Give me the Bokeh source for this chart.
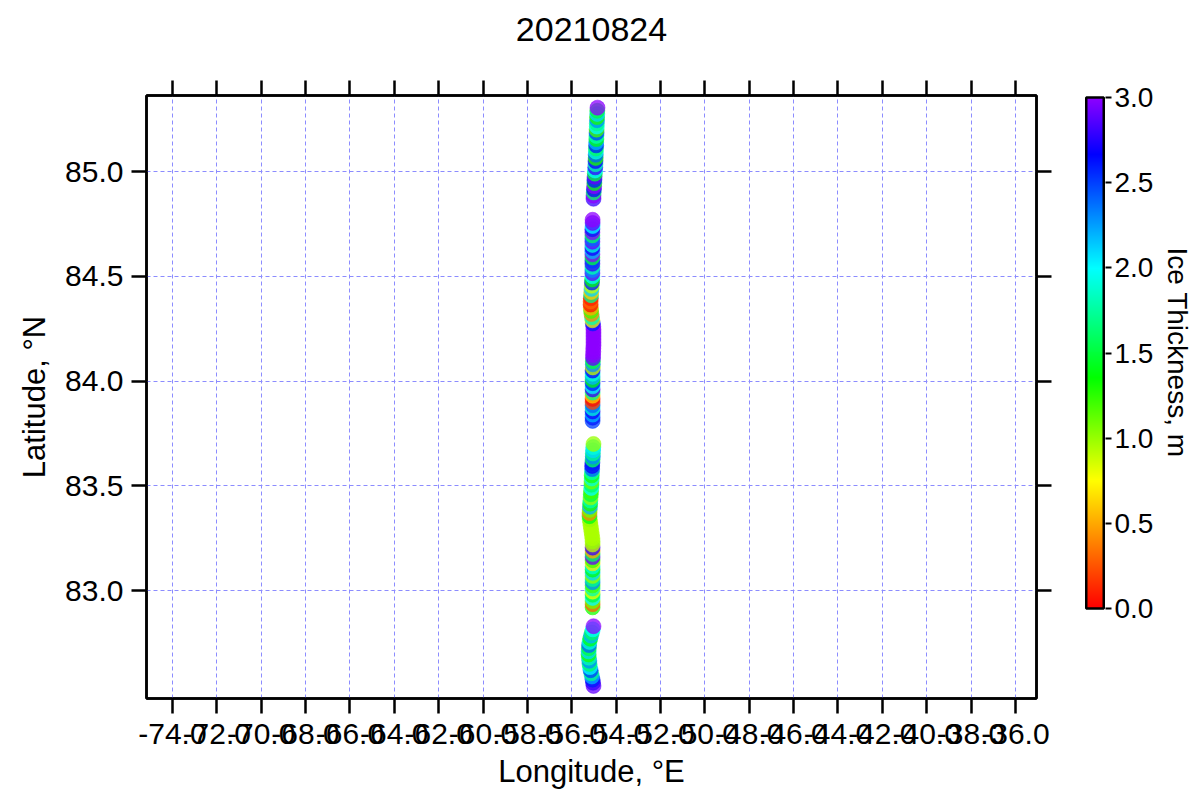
import numpy as np
from bokeh.plotting import figure
from bokeh.layouts import row
from bokeh.models import (LinearAxis, FixedTicker, NumeralTickFormatter, LinearColorMapper,
                          ColumnDataSource, CustomJSTickFormatter, Range1d, Title)
from bokeh.embed import file_html
from bokeh.resources import INLINE

# ---------------- data (track segments, north -> south) ----------------
seg1_lat = [85.305, 85.29, 85.275, 85.26, 85.245, 85.23, 85.215, 85.20, 85.185, 85.17,
            85.155, 85.14, 85.125, 85.11, 85.095, 85.08, 85.065, 85.05, 85.035, 85.02,
            85.005, 84.99, 84.975, 84.96, 84.945, 84.93, 84.915, 84.90, 84.885, 84.87]
seg1_lon = [-54.84, -54.85, -54.85, -54.86, -54.86, -54.87, -54.87, -54.88, -54.88, -54.89,
            -54.89, -54.90, -54.90, -54.91, -54.91, -54.92, -54.92, -54.93, -54.93, -54.94,
            -54.95, -54.96, -54.97, -54.98, -54.98, -54.99, -55.00, -55.01, -55.02, -55.02]
seg1_thk = [3.0, 1.5, 2.1, 1.3, 2.3, 1.7, 2.0, 1.2, 2.5, 1.8,
            1.4, 2.2, 2.6, 1.6, 1.9, 2.4, 1.3, 2.7, 1.8, 2.8,
            2.0, 1.5, 2.9, 2.6, 1.4, 3.0, 2.7, 1.6, 3.0, 2.8]

seg2_lat = [84.770, 84.755, 84.740, 84.725, 84.710, 84.695, 84.680, 84.665, 84.650, 84.635,
            84.620, 84.605, 84.590, 84.575, 84.560, 84.545, 84.530, 84.515, 84.500, 84.485,
            84.470, 84.455, 84.440, 84.425, 84.410, 84.395, 84.380, 84.365, 84.350, 84.335,
            84.320, 84.305, 84.290, 84.275, 84.260, 84.245, 84.230, 84.215, 84.200, 84.185,
            84.170, 84.155, 84.140, 84.125, 84.110, 84.095, 84.080, 84.065, 84.050, 84.035,
            84.020, 84.005, 83.990, 83.975, 83.960, 83.945, 83.930, 83.915, 83.900, 83.885,
            83.870, 83.855, 83.840, 83.825, 83.810]
seg2_lon = [-55.06, -55.06, -55.06, -55.07, -55.07, -55.07, -55.07, -55.07, -55.07, -55.07,
            -55.07, -55.07, -55.07, -55.07, -55.07, -55.07, -55.07, -55.07, -55.07, -55.08,
            -55.09, -55.10, -55.11, -55.12, -55.13, -55.14, -55.15, -55.15, -55.14, -55.13,
            -55.11, -55.09, -55.07, -55.05, -55.03, -55.02, -55.02, -55.02, -55.02, -55.02,
            -55.02, -55.03, -55.03, -55.04, -55.04, -55.05, -55.05, -55.05, -55.06, -55.06,
            -55.06, -55.06, -55.06, -55.06, -55.06, -55.06, -55.06, -55.06, -55.06, -55.06,
            -55.06, -55.06, -55.06, -55.06, -55.06]
seg2_thk = [3.0, 2.9, 2.0, 2.6, 3.0, 1.6, 2.4, 2.9, 1.9, 2.7,
            2.2, 3.0, 1.5, 2.5, 2.8, 1.8, 2.3, 2.9, 2.0, 1.4,
            2.6, 0.9, 2.1, 0.6, 1.7, 0.1, 0.3, 0.05, 0.5, 1.2,
            0.4, 1.8, 0.8, 2.6, 3.2, 3.3, 3.4, 3.3, 3.2, 3.4,
            3.3, 3.2, 3.3, 3.1, 2.9, 1.5, 2.3, 0.9, 2.7, 1.9,
            2.2, 1.4, 2.6, 2.0, 2.8, 1.7, 0.6, 0.05, 0.2, 2.4,
            1.9, 2.7, 2.2, 2.6, 2.5]

seg3_lat = [83.700, 83.685, 83.670, 83.655, 83.640, 83.625, 83.610, 83.595, 83.580, 83.565,
            83.550, 83.535, 83.520, 83.505, 83.490, 83.475, 83.460, 83.445, 83.430, 83.415,
            83.400, 83.385, 83.370, 83.355, 83.340, 83.325, 83.310, 83.295, 83.280, 83.265,
            83.250, 83.235, 83.220, 83.205, 83.190, 83.175, 83.160, 83.145, 83.130, 83.115,
            83.100, 83.085, 83.070, 83.055, 83.040, 83.025, 83.010, 82.995, 82.980, 82.965,
            82.950, 82.935, 82.920]
seg3_lon = [-55.02, -55.03, -55.04, -55.05, -55.05, -55.06, -55.07, -55.08, -55.08, -55.09,
            -55.10, -55.10, -55.11, -55.11, -55.12, -55.13, -55.14, -55.15, -55.16, -55.17,
            -55.18, -55.19, -55.20, -55.20, -55.19, -55.17, -55.15, -55.13, -55.11, -55.09,
            -55.07, -55.06, -55.06, -55.06, -55.06, -55.06, -55.06, -55.06, -55.06, -55.06,
            -55.06, -55.06, -55.06, -55.06, -55.06, -55.06, -55.06, -55.06, -55.06, -55.06,
            -55.06, -55.06, -55.06]
seg3_thk = [1.0, 1.9, 2.1, 1.7, 2.3, 1.6, 2.6, 2.7, 2.4, 1.8,
            1.3, 1.9, 1.1, 1.6, 2.0, 1.2, 1.5, 1.0, 1.8, 1.3,
            2.2, 1.1, 0.4, 1.4, 1.0, 0.95, 0.95, 0.95, 0.95, 0.95,
            0.95, 1.0, 0.9, 2.8, 0.5, 1.6, 2.9, 1.2, 0.7, 1.9,
            1.4, 2.1, 1.0, 1.7, 2.3, 1.2, 1.8, 0.8, 1.5, 2.0,
            1.1, 0.3, 1.3]

seg4_lat = [82.830, 82.815, 82.800, 82.785, 82.770, 82.755, 82.740, 82.725, 82.710, 82.695,
            82.680, 82.665, 82.650, 82.635, 82.620, 82.605, 82.590, 82.575, 82.560, 82.545]
seg4_lon = [-55.02, -55.05, -55.09, -55.13, -55.17, -55.20, -55.22, -55.23, -55.24, -55.24,
            -55.23, -55.21, -55.20, -55.18, -55.15, -55.12, -55.09, -55.06, -55.04, -55.02]
seg4_thk = [3.0, 2.0, 1.6, 2.2, 1.4, 1.9, 2.4, 1.5, 2.1, 1.3,
            1.8, 2.3, 1.6, 2.0, 2.5, 1.7, 2.2, 2.6, 2.8, 2.9]

x_ticks = [-74, -72, -70, -68, -66, -64, -62, -60, -58, -56, -54, -52, -50, -48, -46, -44, -42, -40, -38, -36]
y_ticks = [83.0, 83.5, 84.0, 84.5, 85.0]
cbar_ticks = [0.0, 0.5, 1.0, 1.5, 2.0, 2.5, 3.0]

# ---------------- palette (rainbow, red -> purple) ----------------
stops = [(0.0, (255, 0, 0)), (0.25, (255, 255, 0)), (0.45, (0, 255, 0)),
         (0.667, (0, 255, 255)), (0.89, (0, 0, 255)), (1.0, (140, 0, 255))]
palette = []
for i in range(256):
    t = i / 255
    for (t0, c0), (t1, c1) in zip(stops[:-1], stops[1:]):
        if t0 <= t <= t1:
            f = (t - t0) / (t1 - t0)
            c = [int(round(a + (b - a) * f)) for a, b in zip(c0, c1)]
            palette.append("#%02x%02x%02x" % tuple(c))
            break
mapper = LinearColorMapper(palette=palette, low=0, high=3,
                           low_color=palette[0], high_color=palette[-1])

lat = seg1_lat + seg2_lat + seg3_lat + seg4_lat
lon = seg1_lon + seg2_lon + seg3_lon + seg4_lon
thk = seg1_thk + seg2_thk + seg3_thk + seg4_thk
src = ColumnDataSource(dict(lat=lat[::-1], lon=lon[::-1], thk=thk[::-1]))

FONT = "Liberation Sans"
TOP, BOTTOM = 95, 93

p = figure(width=1060, height=791, output_backend="svg", toolbar_location=None,
           x_range=Range1d(-75.17, -35.05), y_range=Range1d(82.485, 85.363),
           x_axis_location=None, y_axis_location=None,
           min_border_left=146, min_border_right=24, min_border_top=TOP, min_border_bottom=BOTTOM)

def style_axis(ax, labels=True, fs="30px"):
    ax.axis_line_width = 2.5
    ax.axis_line_color = "black"
    ax.major_tick_line_width = 2.5
    ax.major_tick_line_color = "black"
    ax.major_tick_out = 15
    ax.major_tick_in = 0
    ax.minor_tick_line_color = None
    ax.major_label_text_font = FONT
    ax.major_label_text_font_size = fs
    ax.major_label_text_color = "black"
    ax.axis_label_text_font = FONT
    ax.axis_label_text_font_size = "31px"
    ax.axis_label_text_font_style = "normal"
    ax.axis_label_text_color = "black"
    if not labels:
        ax.formatter = CustomJSTickFormatter(code="return ''")

xb = LinearAxis(ticker=FixedTicker(ticks=x_ticks), formatter=NumeralTickFormatter(format="0.0"),
                axis_label="Longitude, °E")
style_axis(xb)
xb.major_label_standoff = 10
xb.axis_label_standoff = 7
p.add_layout(xb, "below")

# top mirror axis; its label carries the chart title "20210824"
xt = LinearAxis(ticker=FixedTicker(ticks=x_ticks), axis_label="20210824")
style_axis(xt, labels=False)
xt.major_label_standoff = 0
xt.axis_label_text_font_size = "34px"
xt.axis_label_standoff = 40
p.add_layout(xt, "above")

yl = LinearAxis(ticker=FixedTicker(ticks=y_ticks), formatter=NumeralTickFormatter(format="0.0"),
                axis_label="Latitude, °N")
style_axis(yl)
yl.major_label_standoff = 8
yl.axis_label_standoff = 10
p.add_layout(yl, "left")
yr = LinearAxis(ticker=FixedTicker(ticks=y_ticks))
style_axis(yr, labels=False)
p.add_layout(yr, "right")

p.xgrid.ticker = FixedTicker(ticks=x_ticks)
p.ygrid.ticker = FixedTicker(ticks=y_ticks)
for g in (p.xgrid, p.ygrid):
    g.grid_line_color = "#8c8cff"
    g.grid_line_alpha = 1.0
    g.grid_line_dash = "4 3"
    g.grid_line_width = 1
p.outline_line_color = "black"
p.outline_line_width = 2.5
p.background_fill_color = "white"

p.scatter("lon", "lat", source=src, size=15,
          fill_color={"field": "thk", "transform": mapper},
          line_color={"field": "thk", "transform": mapper},
          fill_alpha=0.75, line_alpha=0.5, line_width=1)

# ---------------- colour bar as its own small figure ----------------
# bar spans 0..3 from y=97 to y=608 inside a frame that runs 95..698
ppu = (608 - 97) / 3.0
cb = figure(width=139, height=791, output_backend="svg", toolbar_location=None,
            x_range=Range1d(-0.1, 1.1), y_range=Range1d(-(698 - 608) / ppu, 3 + 2 / ppu),
            x_axis_location=None, y_axis_location=None,
            min_border_left=24, min_border_right=91, min_border_top=TOP, min_border_bottom=BOTTOM)
cb.xgrid.visible = False
cb.ygrid.visible = False
cb.outline_line_color = None
grad = np.linspace(0, 3, 512).reshape(-1, 1)
cb.image(image=[grad], x=0, y=0, dw=1, dh=3, color_mapper=mapper)
cb.quad(left=[0], right=[1], bottom=[0], top=[3], fill_color=None, line_color="black", line_width=2.5)
ca = LinearAxis(ticker=FixedTicker(ticks=cbar_ticks), formatter=NumeralTickFormatter(format="0.0"),
                bounds=(0, 3))
style_axis(ca, fs="28px")
ca.axis_line_color = None
ca.major_tick_out = 6
ca.major_tick_line_width = 2
ca.major_label_standoff = 3
cb.add_layout(ca, "right")
# colour-bar title, reading top to bottom, beside the bar
cb.add_layout(Title(text="Ice Thickness, m", align="left", offset=152, standoff=10,
                    text_font=FONT, text_font_size="28px", text_font_style="normal",
                    text_color="black"), "right")

layout = row(p, cb, spacing=0)
open("out.html", "w").write(file_html(layout, INLINE))
